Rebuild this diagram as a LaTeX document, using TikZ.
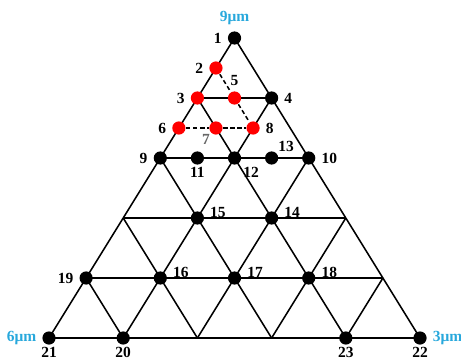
\documentclass[tikz,border=0pt]{standalone}
\usepackage{fontspec}
\setmainfont{Liberation Serif}
\usepackage{xcolor}
\usepackage{tikz}
\usetikzlibrary{positioning}
\definecolor{sizecyan}{RGB}{40,168,220}

\begin{document}
\begin{tikzpicture}[x={(1.855cm,0)}, y={(0.9275cm,1.5cm)}, line width=1.1pt,
    dot/.style={draw=none, circle, fill=black, inner sep=0pt, minimum size=0.33cm},
    reddot/.style={dot, fill=red},
    every label/.style={font=\fontsize{11}{13}\selectfont\bfseries},
    size/.style={text=sizecyan},
    low/.style={inner sep=1pt}]
    \useasboundingbox (-1.225cm,-0.6cm) rectangle (10.3cm,8.45cm);

    % triangular grid
    \foreach \k in {0,...,4} {
        \draw (0,\k) -- (5-\k,\k);
        \draw (\k,0) -- (\k,5-\k);
        \draw (\k+1,0) -- (0,\k+1);
    }

    % top corner
    \node [dot, label={[size]above:9μm}, label=left:1] (p1) at (0,5) {};
    \node [dot, label=right:4] (p4) at (1,4) {};
    \node [reddot, label=left:2] (p2) at (0,4.5) {};
    \node [reddot, label=left:3] (p3) at (0,4) {};
    \node [reddot, label=above:5] (p5) at (0.5,4) {};
    \node [reddot, label=left:6] (p6) at (0,3.5) {};
    \node [reddot, label={[inner sep=0pt, text=black!60]below left:7}] (p7) at (0.5,3.5) {};
    \node [reddot, label=right:8] (p8) at (1,3.5) {};

    \draw [dash pattern=on 3pt off 2pt] (p2) -- (p5);
    \draw [dash pattern=on 3pt off 2pt] (p5) -- (p8);
    \draw [dash pattern=on 3pt off 2pt] (p6) -- (p7);
    \draw [dash pattern=on 3pt off 2pt] (p7) -- (p8);

    % middle rows
    \node [dot, label=left:9] (p9) at (0,3) {};
    \node [dot, label={[low]below:11}] (p11) at (0.5,3) {};
    \node [dot, label={[inner sep=2pt]below right:12}] (p12) at (1,3) {};
    \node [dot, label={[inner sep=0.5pt]above right:13}] (p13) at (1.5,3) {};
    \node [dot, label=right:10] (p10) at (2,3) {};
    \node [dot, label={[yshift=4pt]right:15}] (p15) at (1,2) {};
    \node [dot, label={[yshift=4pt]right:14}] (p14) at (2,2) {};
    \node [dot, label=left:19] (p19) at (0,1) {};
    \node [dot, label={[yshift=4pt]right:16}] (p16) at (1,1) {};
    \node [dot, label={[yshift=4pt]right:17}] (p17) at (2,1) {};
    \node [dot, label={[yshift=4pt]right:18}] (p18) at (3,1) {};

    % bottom row
    \node [dot, label={[low]below:21}, label={[size]left:6μm}] (p21) at (0,0) {};
    \node [dot, label={[low]below:20}] (p20) at (1,0) {};
    \node [dot, label={[low]below:23}] (p23) at (4,0) {};
    \node [dot, label={[low]below:22}, label={[size]right:3μm}] (p22) at (5,0) {};
\end{tikzpicture}
\end{document}
